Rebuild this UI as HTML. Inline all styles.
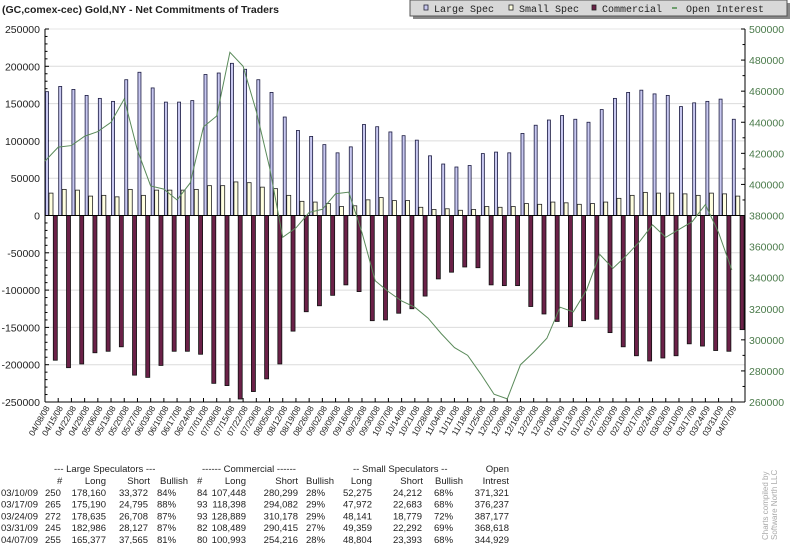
<!DOCTYPE html>
<html><head><meta charset="utf-8"><style>
html,body{margin:0;padding:0;background:#fff;}
body{width:790px;height:544px;overflow:hidden;position:relative;font-family:"Liberation Sans",sans-serif;}
svg{position:absolute;left:0;top:0;}
</style></head><body>
<svg id="chart" width="790" height="544" viewBox="0 0 790 544" xmlns="http://www.w3.org/2000/svg">
<text x="2" y="13" font-size="10.5" font-weight="bold" fill="#222">(GC,comex-cec) Gold,NY - Net Commitments of Traders</text>
<g>
<rect x="413" y="3" width="377" height="16" fill="#888"/>
<rect x="410" y="0" width="377" height="16" fill="#d8d8d8" stroke="#555" stroke-width="1"/>
<g><rect x="424" y="5" width="4" height="5" fill="#c8c8f0" stroke="#223" stroke-width="0.8"/><text x="434" y="12" font-family="Liberation Mono,monospace" font-size="10" fill="#222">Large Spec</text></g>
<g><rect x="509" y="5" width="4" height="5" fill="#ffffe0" stroke="#222" stroke-width="0.8"/><text x="519" y="12" font-family="Liberation Mono,monospace" font-size="10" fill="#222">Small Spec</text></g>
<g><rect x="592" y="5" width="4" height="5" fill="#6b2148" stroke="#222" stroke-width="0.8"/><text x="602" y="12" font-family="Liberation Mono,monospace" font-size="10" fill="#222">Commercial</text></g>
<g><line x1="672" y1="8" x2="677" y2="8" stroke="#4a8a4a" stroke-width="1.5"/><text x="686" y="12" font-family="Liberation Mono,monospace" font-size="10" fill="#222">Open Interest</text></g>
</g>
<g id="plot"></g>
<g id="table" font-size="9.5" fill="#222"></g>
<text transform="translate(768,540) rotate(-90)" font-size="8" fill="#aaa">Charts compiled by</text>
<text transform="translate(777,540) rotate(-90)" font-size="8" fill="#aaa">Software North LLC</text>
</svg>
<script>
const dates=["04/08/08","04/15/08","04/22/08","04/29/08","05/06/08","05/13/08","05/20/08","05/27/08","06/03/08","06/10/08","06/17/08","06/24/08","07/01/08","07/08/08","07/15/08","07/22/08","07/29/08","08/05/08","08/12/08","08/19/08","08/26/08","09/02/08","09/09/08","09/16/08","09/23/08","09/30/08","10/07/08","10/14/08","10/21/08","10/28/08","11/04/08","11/11/08","11/18/08","11/25/08","12/02/08","12/09/08","12/16/08","12/22/08","12/30/08","01/06/09","01/13/09","01/20/09","01/27/09","02/03/09","02/10/09","02/17/09","02/24/09","03/03/09","03/10/09","03/17/09","03/24/09","03/31/09","04/07/09"];
const largeSpec=[166,173,169,161,157,153,182,192,171,152,152,154,189,191,204,196,182,165,132,114,106,95,84,92,122,119,112,107,101,80,69,65,67,83,85,84,110,121,128,134,129,125,142,157,165,168,163,161,146,151,153,156,129].map(v=>v*1000);
const smallSpec=[30,35,34,26,27,25,35,27,34,34,34,35,40,40,45,44,38,36,27,19,18,16,12,13,21,24,20,20,11,8,9,7,8,12,11,12,16,15,18,17,15,16,18,23,27,31,30,30,29,27,30,29,26].map(v=>v*1000);
const commercial=[-194,-204,-199,-184,-182,-176,-214,-217,-201,-182,-182,-186,-225,-228,-246,-236,-219,-199,-155,-129,-121,-107,-93,-102,-141,-140,-131,-125,-108,-85,-76,-69,-70,-93,-94,-94,-122,-132,-142,-149,-141,-139,-157,-176,-188,-195,-191,-188,-172,-175,-181,-182,-153].map(v=>v*1000);
const openInterest=[415,424,425,431,434,440,455,422,399,397,390,401,437,444,485,476,447,411,366,372,382,384,394,395,369,338,331,325,321,314,304,295,290,278,265,262,284,292,301,321,318,332,355,346,354,363,374,366,371,376,387,369,345].map(v=>v*1000);
const leftTicks=[250000,200000,150000,100000,50000,0,-50000,-100000,-150000,-200000,-250000];
const rightTicks=[500000,480000,460000,440000,420000,400000,380000,360000,340000,320000,300000,280000,260000];
const tableRows=[
["03/10/09","250","178,160","33,372","84%","84","107,448","280,299","28%","52,275","24,212","68%","371,321"],
["03/17/09","265","175,190","24,795","88%","93","118,398","294,082","29%","47,972","22,683","68%","376,237"],
["03/24/09","272","178,635","26,708","87%","93","128,889","310,178","29%","48,141","18,779","72%","387,177"],
["03/31/09","245","182,986","28,127","87%","82","108,489","290,415","27%","49,359","22,292","69%","368,618"],
["04/07/09","255","165,377","37,565","81%","80","100,993","254,216","28%","48,804","23,393","68%","344,929"]];

const NS="http://www.w3.org/2000/svg";
const X0=45,X1=745,YT=29,YB=402;
const step=(X1-X0)/dates.length;
function yL(v){return YT+(250000-v)/500000*(YB-YT);}
function yR(v){return YT+(500000-v)/240000*(YB-YT);}
function xT(i){return X0+i*step;}
function mk(tag,attrs,parent){const e=document.createElementNS(NS,tag);for(const k in attrs)e.setAttribute(k,attrs[k]);parent.appendChild(e);return e;}
const plot=document.getElementById('plot');
leftTicks.forEach(v=>{
 if(v!==250000&&v!==-250000&&v!==0){const g=mk('line',{x1:X0,x2:X1,y1:yL(v),y2:yL(v),stroke:'#dcdcdc','stroke-width':1},plot);
 
 }
});
mk('line',{x1:X0,x2:X1,y1:YT,y2:YT,stroke:'#e4e4e4'},plot);
const la=mk('line',{x1:X0,x2:X0,y1:YT,y2:YB,stroke:'#000'},plot);


const ra=mk('line',{x1:X1,x2:X1,y1:YT,y2:YB,stroke:'#000'},plot);


const xa=mk('line',{x1:X0,x2:X1,y1:YB,y2:YB,stroke:'#000'},plot);


for(let v=-250000;v<=250000;v+=10000){const major=v%50000===0;mk('line',{x1:X0,x2:X0+(major?4:2.5),y1:yL(v),y2:yL(v),stroke:'#000'},plot);}
for(let v=260000;v<=500000;v+=10000){const major=v%20000===0;mk('line',{x1:X1,x2:X1-(major?4:2.5),y1:yR(v),y2:yR(v),stroke:'#000'},plot);}
leftTicks.forEach(v=>{const t=mk('text',{x:40,y:yL(v)+4,'text-anchor':'end','font-size':10.5,fill:'#222'},plot);t.textContent=String(v);
 
 });
rightTicks.forEach(v=>{const t=mk('text',{x:749,y:yR(v)+4,'font-size':10.5,fill:'#4a7a4a'},plot);t.textContent=String(v);
 
 });
for(let i=0;i<dates.length;i++){
 const x=xT(i);
 const y0=yL(0);
 const b1=mk('rect',{x:x+0.5,y:yL(largeSpec[i]),width:3,height:y0-yL(largeSpec[i]),fill:'#c8c8f0',stroke:'#1a1a40','stroke-width':0.8},plot);
 
 
 const b2=mk('rect',{x:x+4,y:yL(smallSpec[i]),width:4,height:y0-yL(smallSpec[i]),fill:'#ffffe0',stroke:'#222','stroke-width':0.8},plot);
 
 
 const b3=mk('rect',{x:x+8.3,y:y0,width:4,height:yL(commercial[i])-y0,fill:'#6b2148',stroke:'#111','stroke-width':0.8},plot);
 
 
 mk('line',{x1:x,x2:x,y1:YB,y2:YB-4,stroke:'#000'},plot);
 const t=mk('text',{transform:`translate(${x+5},${YB+6}) rotate(-60)`,'text-anchor':'end','font-size':8.5,fill:'#222'},plot);
 t.textContent=dates[i];
 
 
}
const zl=mk('line',{x1:X0,x2:X1,y1:yL(0),y2:yL(0),stroke:'#000'},plot);


const pl=mk('polyline',{points:openInterest.map((v,i)=>xT(i)+','+yR(v)).join(' '),fill:'none',stroke:'#5a8a5a','stroke-width':1},plot);


const tb=document.getElementById('table');
function tx(s,x,y,anchor){const t=mk('text',{x:x,y:y,'text-anchor':anchor||'start'},tb);t.textContent=s;return t;}
let h1=472,h2=484;
tx('--- Large Speculators ---',54,h1);tx('------ Commercial ------',202,h1);tx('-- Small Speculators --',353,h1);tx('Open',509,h1,'end');
tx('#',57,h2);tx('Long',106,h2,'end');tx('Short',150,h2,'end');tx('Bullish',188,h2,'end');tx('#',197,h2);
tx('Long',246,h2,'end');tx('Short',298,h2,'end');tx('Bullish',334,h2,'end');tx('Long',372,h2,'end');tx('Short',423,h2,'end');tx('Bullish',463,h2,'end');tx('Intrest',509,h2,'end');
const colX=[[1,'start'],[45,'start'],[106,'end'],[148,'end'],[157,'start'],[197,'start'],[246,'end'],[298,'end'],[306,'start'],[372,'end'],[422,'end'],[434,'start'],[509,'end']];
tableRows.forEach((r,ri)=>{const y=496+ri*11.7;r.forEach((c,ci)=>{const t=tx(c,colX[ci][0],y,colX[ci][1]);
 
 });});
</script>
</body></html>
